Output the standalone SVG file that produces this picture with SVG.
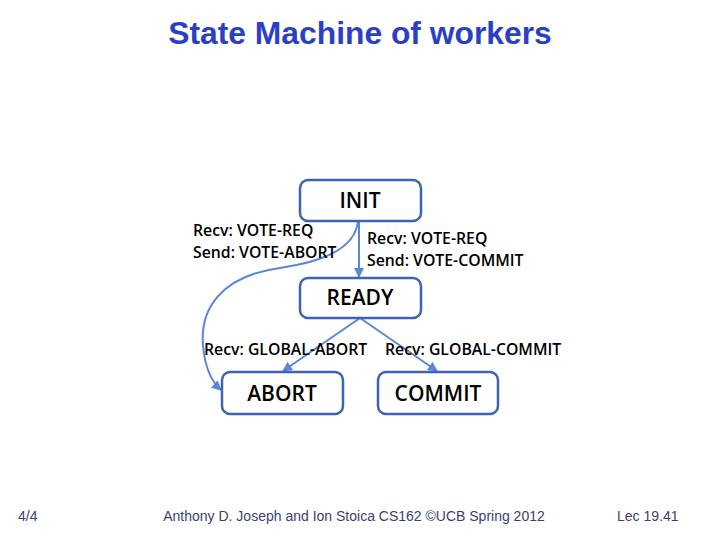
<svg xmlns="http://www.w3.org/2000/svg" width="720" height="540" viewBox="0 0 720 540">
<defs>
<marker id="ah" viewBox="0 0 10 10" refX="9" refY="5" markerWidth="5" markerHeight="5" orient="auto-start-reverse">
<path d="M0,0 L10,5 L0,10 z" fill="#5b86d6"/>
</marker>
<style>
.box{fill:#fff;stroke:#3d64b4;stroke-width:2.5}
.nl{font-family:"Open Sans","Liberation Sans",sans-serif;font-size:21px;font-weight:600;fill:#000;text-anchor:middle}
.el{font-family:"Open Sans","Liberation Sans",sans-serif;font-size:15.8px;font-weight:600;fill:#000}
.con{fill:none;stroke:#5b86d6;stroke-width:2;marker-end:url(#ah)}
.ft{font-family:"Liberation Sans",Arial,sans-serif;font-size:14px;fill:#3a3f6e}
</style>
</defs>
<rect width="720" height="540" fill="#fff"/>
<text x="360" y="44" text-anchor="middle" font-family="Liberation Sans,Arial,sans-serif" font-size="31.8" font-weight="bold" fill="#2b3fc6">State Machine of workers</text>
<g id="connectors">
<path class="con" d="M359,221 L359,277"/>
<path class="con" d="M358,221 C355,250 320,262 280,268 C220,276 200,310 203,345 C205,370 212,382 221,390"/>
<path class="con" d="M360,318 L283,371"/>
<path class="con" d="M360,318 L437,371"/>
</g>
<g id="init">
<rect class="box" x="300" y="180" width="121" height="41" rx="8"/>
<text class="nl" x="360" y="208">INIT</text>
</g>
<g id="ready">
<rect class="box" x="300" y="278" width="121" height="40" rx="8"/>
<text class="nl" x="360" y="305">READY</text>
</g>
<g id="abort">
<rect class="box" x="222" y="372" width="121" height="42" rx="8"/>
<text class="nl" x="282" y="401">ABORT</text>
</g>
<g id="commit">
<rect class="box" x="378" y="372" width="120" height="42" rx="8"/>
<text class="nl" x="438" y="401">COMMIT</text>
</g>
<g id="labels">
<text class="el" x="193" y="236">Recv: VOTE-REQ</text>
<text class="el" x="193" y="258">Send: VOTE-ABORT</text>
<text class="el" x="367" y="244">Recv: VOTE-REQ</text>
<text class="el" x="367" y="266">Send: VOTE-COMMIT</text>
<text class="el" x="204" y="355">Recv: GLOBAL-ABORT</text>
<text class="el" x="385" y="355">Recv: GLOBAL-COMMIT</text>
</g>
<g id="footer">
<text class="ft" x="18" y="521">4/4</text>
<text class="ft" x="354" y="521" text-anchor="middle">Anthony D. Joseph and Ion Stoica CS162 ©UCB Spring 2012</text>
<text class="ft" x="617" y="521">Lec 19.41</text>
</g>
</svg>
